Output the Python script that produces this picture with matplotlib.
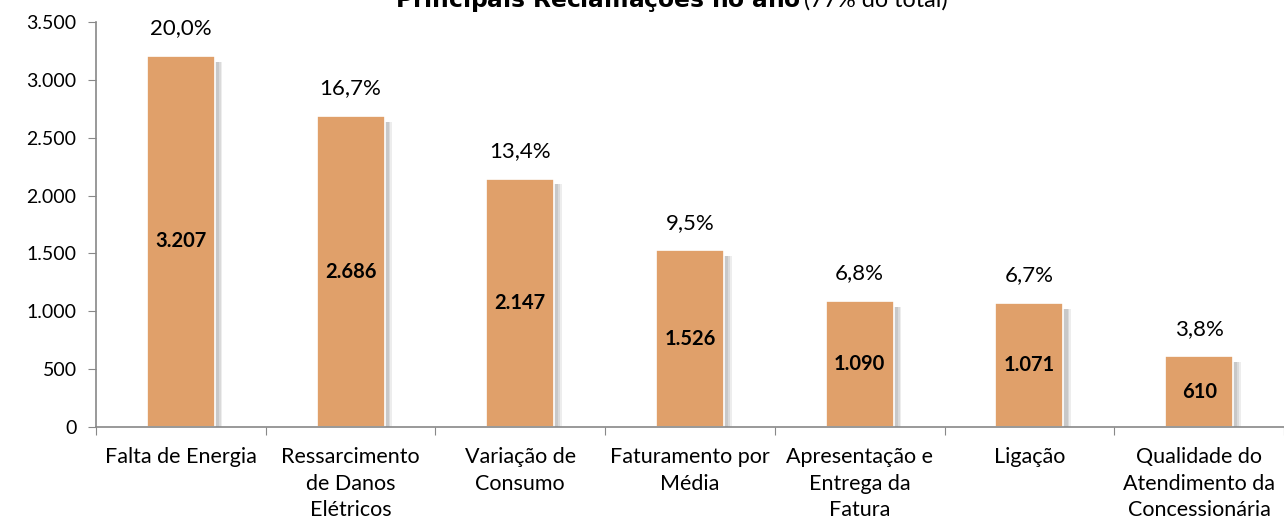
import matplotlib
matplotlib.use("Agg")
import matplotlib.pyplot as plt
import numpy as np

categories = ["Falta de Energia", "Ressarcimento\nde Danos\nElétricos", "Variação de\nConsumo",
              "Faturamento por\nMédia", "Apresentação e\nEntrega da\nFatura", "Ligação",
              "Qualidade do\nAtendimento da\nConcessionária"]
values = [3207, 2686, 2147, 1526, 1090, 1071, 610]
value_labels = ["3.207", "2.686", "2.147", "1.526", "1.090", "1.071", "610"]
pct_labels = ["20,0%", "16,7%", "13,4%", "9,5%", "6,8%", "6,7%", "3,8%"]
yticks = [0, 500, 1000, 1500, 2000, 2500, 3000, 3500]
ytick_labels = ["0", "500", "1.000", "1.500", "2.000", "2.500", "3.000", "3.500"]

plt.rcParams['font.family'] = ['Lato', 'DejaVu Sans']

fig = plt.figure(figsize=(12.84, 5.25), dpi=100)
ax = fig.add_axes([96/1284, 98/525, 1 - 96/1284, (427-22)/525])

x = np.arange(len(values))
w = 0.4
# soft shadow
for off, a in [(0.045, 0.25), (0.035, 0.35), (0.025, 0.5)]:
    ax.bar(x + off, np.array(values) - 40, width=w, bottom=-10, color="#b8b8b8", alpha=a,
           linewidth=0, zorder=1)
ax.bar(x, values, width=w, color="#E0A06A", edgecolor="white", linewidth=1.2, zorder=2)

for xi, v, vl, pl in zip(x, values, value_labels, pct_labels):
    ax.text(xi, v / 2, vl, ha="center", va="center", fontsize=14.5, fontweight="bold", zorder=3)
    ax.text(xi, v + 240, pl, ha="center", va="center", fontsize=16, zorder=3)

ax.set_xlim(-0.5, len(values) - 0.5)
ax.set_ylim(0, 3500)
ax.set_yticks(yticks)
ax.set_yticklabels(ytick_labels, fontsize=14)
ax.set_xticks(np.arange(len(values) + 1) - 0.5, minor=False)
ax.set_xticklabels([""] * (len(values) + 1))
ax.tick_params(axis="x", length=6, color="#888888", direction="out")
ax.tick_params(axis="y", length=6, color="#888888", direction="out", pad=8)
for xi, c in zip(x, categories):
    ax.text(xi, -0.05, c, transform=ax.get_xaxis_transform(), ha="center", va="top",
            fontsize=15.5, linespacing=1.4)

for s in ["top", "right"]:
    ax.spines[s].set_visible(False)
for s in ["left", "bottom"]:
    ax.spines[s].set_color("#888888")
    ax.spines[s].set_linewidth(1.2)

fig.text(801/1284, 1.0, r"$\bf{Principais\ Reclamações\ no\ ano}$", ha="right", va="center", fontsize=16.8)
fig.text(804/1284, 1.0, "(77% do total)", ha="left", va="center", fontsize=16.8)

fig.savefig("out.png", dpi=100)
